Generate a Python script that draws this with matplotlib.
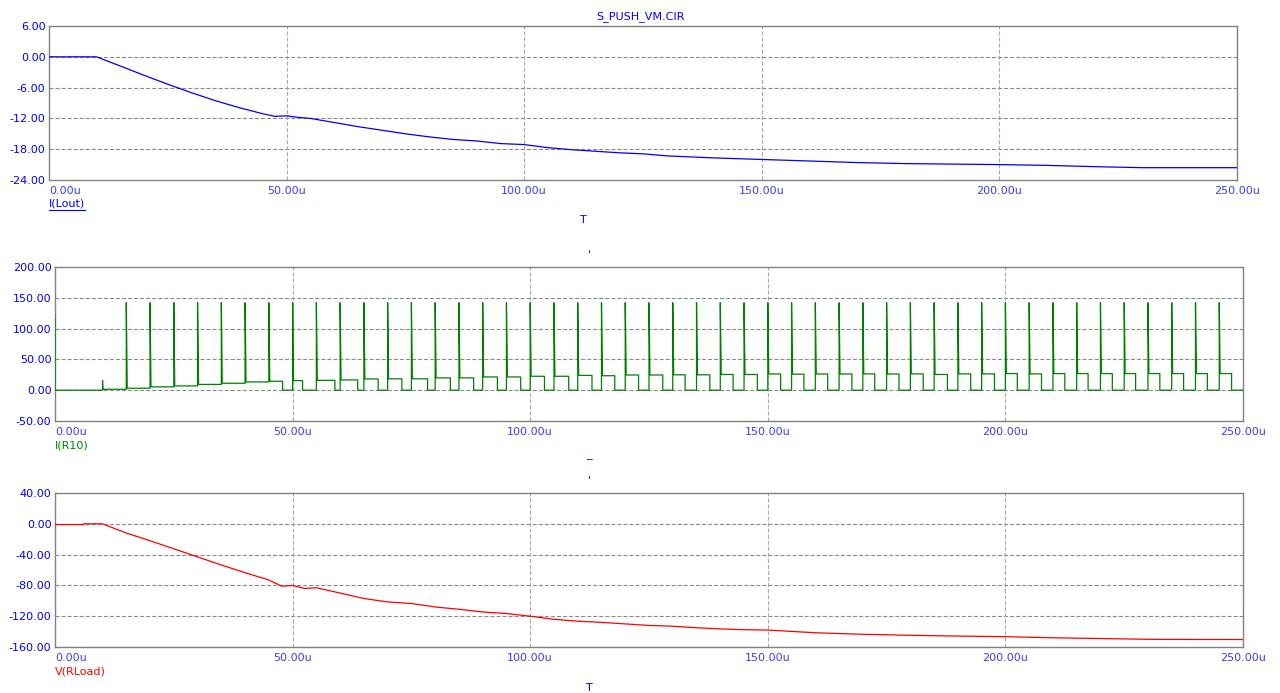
import matplotlib
matplotlib.use("Agg")
import matplotlib.pyplot as plt
from matplotlib.lines import Line2D

plt.rcParams['font.family'] = ['DejaVu Sans']
plt.rcParams['font.size'] = 8
plt.rcParams['lines.scale_dashes'] = False

# ---------------- data (time in microseconds) ----------------
title = "S_PUSH_VM.CIR"
x_ticks = [0, 50, 100, 150, 200, 250]
x_tick_labels = ["0.00u", "50.00u", "100.00u", "150.00u", "200.00u", "250.00u"]

# I(Lout)
lout_t = [0, 10, 15, 20, 25, 30, 35, 40, 45, 47.5, 50, 52.5, 55, 60, 65, 70, 75, 80,
          85, 90, 95, 100, 105, 110, 115, 120, 125, 130, 135, 140, 145, 150, 160,
          170, 180, 190, 200, 210, 220, 230, 240, 250]
lout_v = [0, 0, -1.8, -3.6, -5.35, -7.0, -8.55, -9.9, -11.1, -11.6, -11.5, -11.8,
          -12.0, -12.8, -13.6, -14.3, -15.0, -15.6, -16.1, -16.4, -16.9, -17.1,
          -17.7, -18.1, -18.4, -18.7, -18.9, -19.3, -19.5, -19.7, -19.85, -20.0,
          -20.3, -20.6, -20.8, -20.9, -21.0, -21.15, -21.4, -21.6, -21.6, -21.6]
lout_yticks = [6, 0, -6, -12, -18, -24]

# I(R10): switching pulses
r10_initial = 116.0          # value at t = 0
r10_first_spike_t = 10.0
r10_first_spike_v = 16.0
r10_first_level = 1.5
r10_spike_v = 142.0
r10_pulse_t = [15, 20, 25, 30, 35, 40, 45, 50, 55, 60, 65, 70, 75, 80, 85, 90,
               95, 100, 105, 110, 115, 120, 125, 130, 135, 140, 145, 150, 155,
               160, 165, 170, 175, 180, 185, 190, 195, 200, 205, 210, 215, 220,
               225, 230, 235, 240, 245]
r10_level = [3.2, 5.4, 7.0, 9.4, 11.3, 13.4, 14.5, 15.6, 16.0, 16.7, 18.3, 18.5,
             18.5, 20.0, 20.0, 21.5, 21.5, 22.6, 22.6, 24.0, 23.5, 24.7, 24.7, 25.0,
             25.0, 25.5, 25.5, 26.3, 26.0, 26.3, 26.3, 26.5, 26.3, 26.5, 25.5, 26.5,
             26.5, 27.0, 26.5, 27.0, 27.0, 27.0, 27.0, 27.0, 27.0, 27.0, 27.0]
# time the level falls to zero (None: stays on until the next pulse)
r10_off = [None, None, None, None, None, None, 47.9, 52.1, 58.9, 63.7, 68.0, 73.0,
           78.4, 83.2, 88.1, 93.1, 98.0, 103.0, 108.1, 113.0, 117.8, 122.8, 127.9,
           132.6, 137.8, 142.7, 147.8, 152.7, 157.6, 162.6, 167.7, 172.5, 177.6,
           182.7, 187.8, 192.7, 197.7, 202.5, 207.6, 212.5, 217.4, 222.5, 227.4,
           232.5, 237.5, 242.5, 247.6]
r10_end_t = 250
r10_yticks = [200, 150, 100, 50, 0, -50]

# V(RLoad)
vload_t = [0, 6, 6.01, 10, 15, 20, 25, 30, 35, 40, 45, 47.7, 50, 52.5, 55, 60, 65,
           70, 75, 80, 85, 90, 95, 100, 105, 110, 115, 120, 125, 130, 135, 140,
           145, 150, 160, 170, 180, 190, 200, 210, 220, 230, 240, 250]
vload_v = [-1, -1, 0, 0, -12, -22, -32.5, -43, -53.5, -63.5, -73, -81, -80, -84,
           -83, -90, -97, -101.5, -103.5, -108, -111, -114.5, -116.5, -120, -124,
           -126.5, -128, -130, -132, -133, -135, -136.5, -137.5, -138, -141.5,
           -143.5, -144.8, -145.8, -146.6, -148, -149, -150, -150.2, -150.3]
vload_yticks = [40, 0, -40, -80, -120, -160]

# ---------------- figure ----------------
W, H = 1280, 693
fig = plt.figure(figsize=(W / 100, H / 100), dpi=100)


def px_axes(left, top, right, bottom):
    return fig.add_axes([left / W, 1 - bottom / H, (right - left) / W, (bottom - top) / H])


BLUE = '#0000ff'
XBLUE = '#3c3cff'
GRID_H = '#8a8a8a'
GRID_V = '#a8a8a8'


def style(ax, yticks):
    ax.set_xlim(0, 250)
    ax.set_ylim(min(yticks), max(yticks))
    ax.set_yticks(yticks)
    ax.set_yticklabels([f"{v:.2f}" for v in yticks], color=BLUE)
    ax.set_xticks(x_ticks)
    ax.set_xticklabels(x_tick_labels, color=XBLUE)
    ax.get_xticklabels()[0].set_horizontalalignment('left')
    ax.tick_params(length=0, pad=2.5, labelsize=8)
    ax.tick_params(axis='x', pad=4.5)
    for s in ax.spines.values():
        s.set_color('#808080')
        s.set_linewidth(1.0)
    for y in yticks[1:-1]:
        ax.axhline(y, color=GRID_H, lw=0.8, dashes=(2.9, 1.45), zorder=1)
    for x in x_ticks[1:-1]:
        ax.axvline(x, color=GRID_V, lw=0.8, dashes=(2.9, 1.45), zorder=1)


ax1 = px_axes(49, 26, 1237, 180)
style(ax1, lout_yticks)
ax1.plot(lout_t, lout_v, color='#0000ff', lw=0.9, zorder=3)

ax2 = px_axes(55, 267, 1243, 421)
style(ax2, r10_yticks)
xs = [0, 0, r10_first_spike_t, r10_first_spike_t, r10_first_spike_t + 0.1, r10_pulse_t[0]]
ys = [r10_initial, 0, 0, r10_first_spike_v, r10_first_level, r10_first_level]
for i, t0 in enumerate(r10_pulse_t):
    t_next = r10_pulse_t[i + 1] if i + 1 < len(r10_pulse_t) else r10_end_t
    lvl = r10_level[i]
    xs += [t0, t0, t0 + 0.2]
    ys += [ys[-1], r10_spike_v, lvl]
    if r10_off[i] is None:
        xs += [t_next]
        ys += [lvl]
    else:
        xs += [r10_off[i], r10_off[i], t_next]
        ys += [lvl, 0, 0]
ax2.plot(xs, ys, color='#008000', lw=0.9, zorder=3)

ax3 = px_axes(55, 493, 1243, 647)
style(ax3, vload_yticks)
ax3.plot(vload_t, vload_v, color='#ff0000', lw=0.9, zorder=3)

# ---------------- texts ----------------
def ftext(x, y, s, color, ha='left', **kw):
    return fig.text(x / W, 1 - y / H, s, color=color, ha=ha, va='center', fontsize=8, **kw)

ftext(640, 17, title, BLUE, ha='center')
t_lout = ftext(49, 204, "I(Lout)", BLUE)
ftext(583, 220, "T", BLUE, ha='center')
ftext(589, 254, "'", BLUE, ha='center')
ftext(55, 446, "I(R10)", '#008000')
ftext(589, 455, "_", BLUE, ha='center')
ftext(589, 480, "'", BLUE, ha='center')
ftext(55, 672, "V(RLoad)", '#ff0000')
ftext(589, 688, "T", BLUE, ha='center')

# underline the I(Lout) label
fig.canvas.draw()
bb = t_lout.get_window_extent(renderer=fig.canvas.get_renderer())
fig.add_artist(Line2D([bb.x0 / W, bb.x1 / W], [(bb.y0 - 1) / H, (bb.y0 - 1) / H],
                      color=BLUE, lw=0.8, transform=fig.transFigure))

fig.savefig("out.png", dpi=100)
